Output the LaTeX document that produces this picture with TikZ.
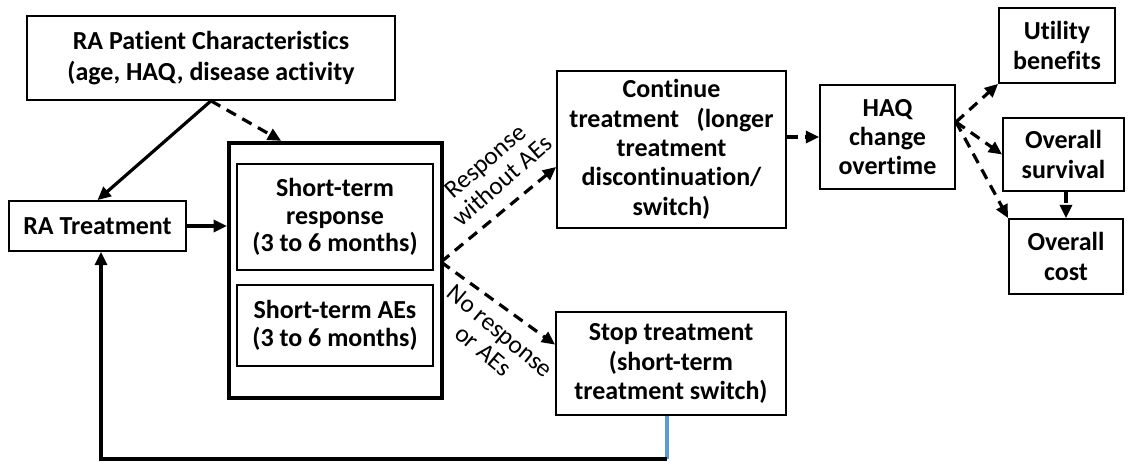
\documentclass[tikz,border=0pt]{standalone}
\usepackage{fontspec}
\setmainfont{Carlito}[Ligatures=NoCommon]
\usetikzlibrary{arrows.meta,calc}
\definecolor{fbblue}{RGB}{91,155,213}
\tikzset{
  box/.style={draw, line width=1.3pt, align=center, inner sep=0pt,
    font=\bfseries\fontsize{19.5}{22}\selectfont},
  arr/.style={-{Triangle[length=10pt,width=9pt]}, line width=2.4pt},
  dsh/.style={arr, dash pattern=on 8pt off 5.5pt},
  lbl/.style={align=center, inner sep=0pt, font=\fontsize{19}{19.5}\selectfont}
}
\begin{document}
\begin{tikzpicture}[x=0.75pt,y=-0.75pt]
\useasboundingbox (0,0) rectangle (1129,461);
\node[box, minimum width=276pt, minimum height=63pt, font=\bfseries\fontsize{19.5}{23}\selectfont] (pc) at (211,58) {RA Patient Characteristics\\(age, HAQ, disease activity};
\node[box, minimum width=132.75pt, minimum height=37.5pt] (rat) at (97.5,226) {RA Treatment};
\node[box, line width=3.2pt, minimum width=159.75pt, minimum height=191.25pt] (big) at (335.5,270.5) {};
\node[box, minimum width=147pt, minimum height=79.5pt, font=\bfseries\fontsize{19.5}{20.6}\selectfont] (sr) at (335,217) {Short-term\\response\\(3 to 6 months)};
\node[box, minimum width=147pt, minimum height=60.75pt, font=\bfseries\fontsize{19.5}{21.5}\selectfont] (sa) at (335,325.5) {Short-term AEs\\(3 to 6 months)};
\node[box, minimum width=171.75pt, minimum height=117.75pt] (ct) at (671.5,149.5) {Continue\\treatment \ \ (longer\\treatment\\discontinuation/\\switch)};
\node[box, minimum width=172.5pt, minimum height=77.25pt] (st) at (671,363.5) {Stop treatment\\(short-term\\treatment switch)};
\node[box, minimum width=101.25pt, minimum height=78pt] (haq) at (887.5,137) {HAQ\\change\\overtime};
\node[box, minimum width=87pt, minimum height=56.25pt] (ub) at (1057,45.5) {Utility\\benefits};
\node[box, minimum width=90.75pt, minimum height=54.75pt] (os) at (1063.5,154.5) {Overall\\survival};
\node[box, minimum width=85.5pt, minimum height=56.25pt] (oc) at (1066,256.5) {Overall\\cost};

\coordinate (br) at (441,262);
\coordinate (hr) at (956,122);
\coordinate (fb) at (667,459);

\draw[arr] (pc.south) -- (rat.north);
\draw[dsh] (pc.south) -- ($(big.north west)!0.25!(big.north east)$);
\draw[arr] (rat.east) -- (big.west |- rat.east);
\draw[dsh] (br) -- ($(ct.south west)!0.39!(ct.north west)$);
\draw[dsh] (br) -- ($(st.south west)!0.68!(st.north west)$);
\draw[dsh] (ct.east |- haq.west) -- (haq.west);
\draw[dsh] (hr) -- (ub.south west);
\draw[dsh] (hr) -- (os.west);
\draw[dsh] (hr) -- (oc.north west);
\draw[dsh] (oc.north |- os.south) -- (oc.north);
\draw[fbblue, line width=2.4pt] (st.south -| fb) -- (fb);
\draw[arr] (fb) -| ($(rat.south)+(3.5,0)$);

\node[lbl, rotate=41] (l1) at (494,171) {Response\\without AEs};
\node[lbl, rotate=-40] (l2) at (492,341) {No response\\or AEs};
\end{tikzpicture}
\end{document}
